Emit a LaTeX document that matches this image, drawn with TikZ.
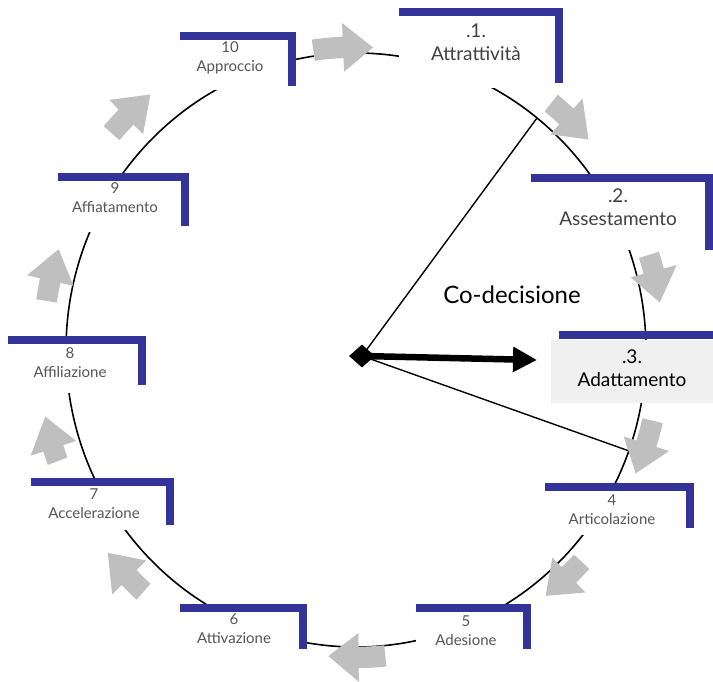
\documentclass[tikz,border=0pt]{standalone}
\usepackage{fontspec}
\setmainfont{Lato}
\usetikzlibrary{shapes.geometric,arrows.meta}
\definecolor{barblue}{RGB}{51,51,153}
\definecolor{arrgray}{RGB}{191,191,191}
\definecolor{boxgray}{RGB}{240,240,240}
\definecolor{txtgray}{RGB}{85,85,85}
\definecolor{bigtxt}{RGB}{64,64,64}
% curved clockwise block arrow: tail angle, tip angle, radius factor
\newcommand{\garr}[3]{%
  \pgfmathsetmacro\ab{#2-5.8}%
  \fill[arrgray]
    plot[domain=#1:\ab,samples=8] ({356+290*(#3-0.036)*cos(\x)},{350+297*(#3-0.036)*sin(\x)})
    -- ({356+290*(#3-0.082)*cos(\ab)},{350+297*(#3-0.082)*sin(\ab)})
    -- ({356+290*#3*cos(#2)},{350+297*#3*sin(#2)})
    -- ({356+290*(#3+0.082)*cos(\ab)},{350+297*(#3+0.082)*sin(\ab)})
    -- plot[domain=\ab:#1,samples=8] ({356+290*(#3+0.036)*cos(\x)},{350+297*(#3+0.036)*sin(\x)})
    -- cycle;}
% label frame: x1,y1 (top-left of bar), x2 (right end), yv (bottom of vertical), yb (bottom of white mask)
\newcommand{\lframe}[5]{%
  \fill[white] (#1,#2) rectangle (#3,#5);
  \fill[barblue] (#1,#2) rectangle (#3,#2+8);
  \fill[barblue] (#3-8,#2) rectangle (#3,#4);}
\begin{document}
\begin{tikzpicture}[x=1pt,y=-1pt,
  smalllab/.style={align=center,text=txtgray,font=\fontsize{15}{19}\selectfont,inner sep=0pt},
  biglab/.style={align=center,text=bigtxt,font=\fontsize{19}{23}\selectfont,inner sep=0pt}]
\useasboundingbox (0,0) rectangle (713,682);
\fill[white] (0,0) rectangle (713,682);
% cycle
\draw[line width=1.6pt] (356,350) ellipse [x radius=290, y radius=297];
% label frames (mask the circle)
\lframe{399}{8}{563}{83}{88}
\lframe{531}{174}{713}{250}{250}
\fill[boxgray] (551,340) rectangle (713,403);
\fill[barblue] (559,331) rectangle (713,339);
\lframe{545}{483}{694}{528}{535}
\lframe{416}{604}{531}{649}{654}
\lframe{180}{604}{307}{649}{654}
\lframe{31}{478}{174}{525}{530}
\lframe{8}{336}{146}{385}{393}
\lframe{58}{173}{189}{226}{232}
\lframe{180}{32}{296}{86}{90}
% labels
\node[biglab] (l1) at (476,42) {.1.\\Attrattività};
\node[biglab] (l2) at (618,207) {.2.\\Assestamento};
\node[biglab,text=black] (l3) at (632,368) {.3.\\Adattamento};
\node[smalllab] (l4) at (612,510) {4\\Articolazione};
\node[smalllab] (l5) at (466,631) {5\\Adesione};
\node[smalllab] (l6) at (234,629) {6\\Attivazione};
\node[smalllab] (l7) at (94,504) {7\\Accelerazione};
\node[smalllab] (l8) at (70,363) {8\\Affiliazione};
\node[smalllab] (l9) at (115,198) {9\\Affiatamento};
\node[smalllab] (l10) at (230,58) {10\\Approccio};
\node[font=\fontsize{24}{28}\selectfont] (co) at (512,295) {Co-decisione};
% center
\node[diamond,fill=black,minimum width=26pt,minimum height=23pt,inner sep=0pt] (ctr) at (362,356) {};
\coordinate (e1) at (537,118);
\coordinate (e2) at (632,452);
\coordinate (tip) at (537,360);
\draw[line width=1.4pt] (ctr.center) -- (e1);
\draw[line width=1.4pt] (ctr.center) -- (e2);
\draw[line width=6.5pt,-{Triangle[length=24pt,width=24pt]}] (ctr.center) -- (tip);
% gray cycle arrows
\garr{-98.3}{-86.7}{1.02}
\garr{-51}{-41.5}{1.07}
\garr{-17.6}{-8.7}{1.06}
\garr{13.1}{23.3}{1.05}
\garr{42.5}{51.7}{1.055}
\garr{84.4}{95.3}{1.035}
\garr{132}{141.4}{1.095}
\garr{160}{168.2}{1.095}
\garr{188.8}{198.3}{1.08}
\garr{220.9}{230.5}{1.115}
\end{tikzpicture}
\end{document}
